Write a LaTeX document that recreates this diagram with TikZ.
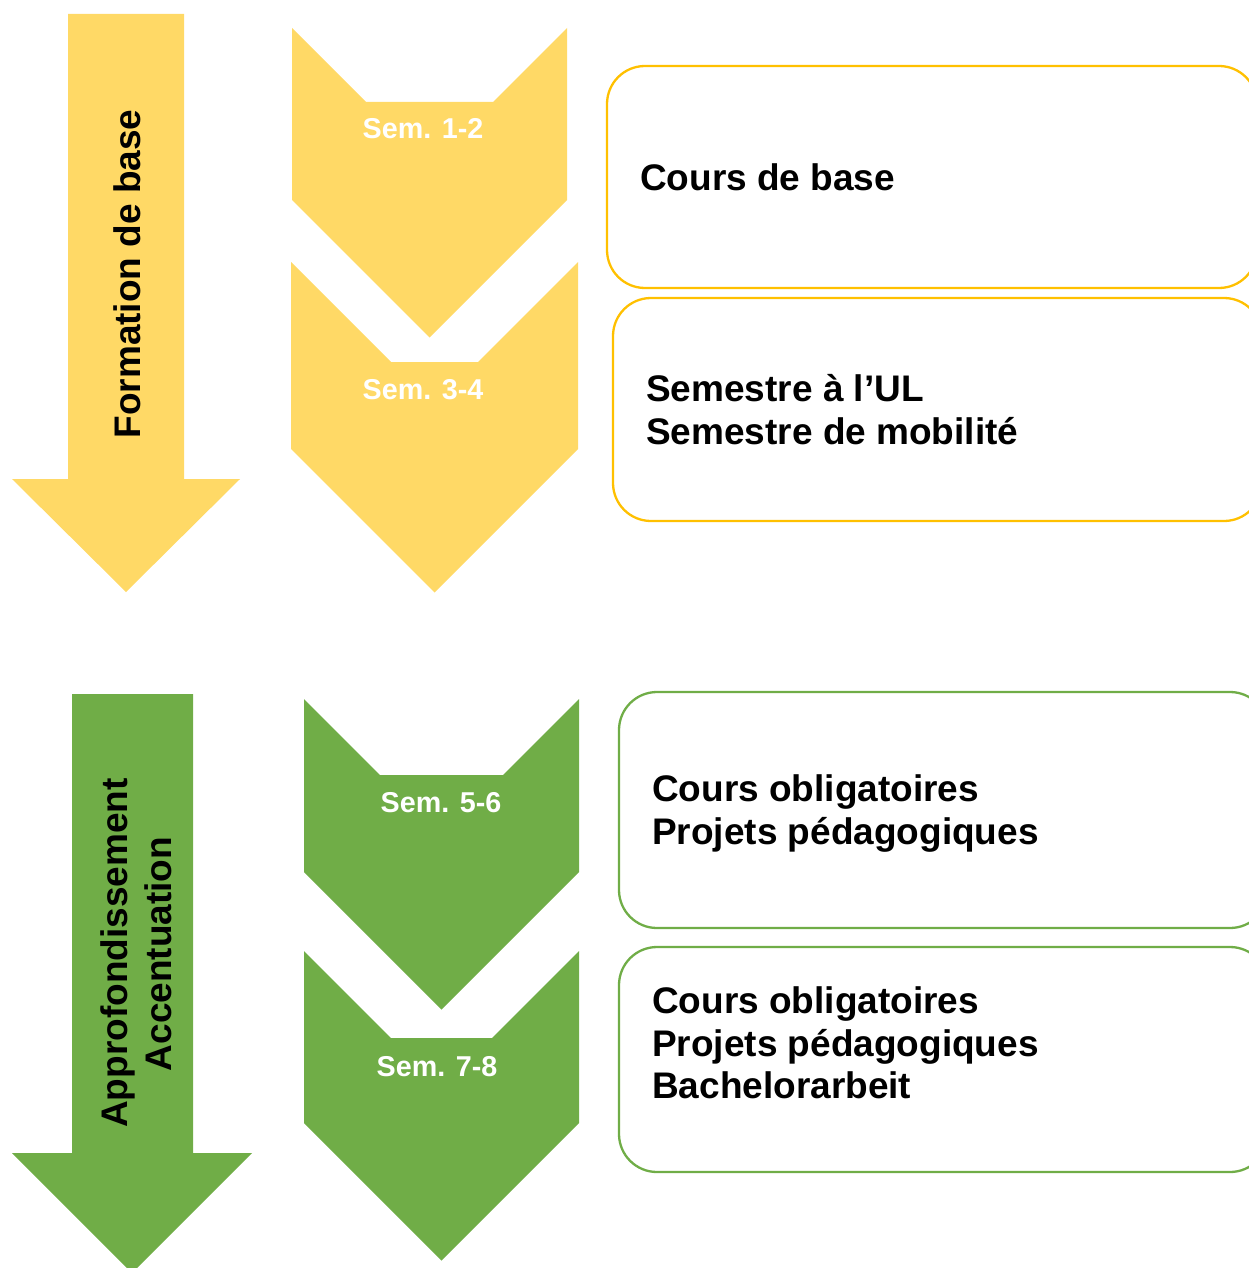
\documentclass[tikz,border=0pt]{standalone}
\usepackage{fontspec}
\setmainfont{Liberation Sans}
\definecolor{lightgold}{HTML}{FFD966}
\definecolor{gold}{HTML}{FFC000}
\definecolor{leaf}{HTML}{70AD47}
\newcommand\mychevron[7]{% name, color, L, R, T, d, S
  \fill[#2] (#3,#5) -- ({#3+#6},{#5+#6}) -- ({#4-#6},{#5+#6}) -- (#4,#5)
    -- (#4,#7) -- ({(#3+#4)/2},{#7+(#4-#3)/2}) -- (#3,#7) -- cycle;
  \coordinate (#1) at ({(#3+#4)/2},#5);
}
\tikzset{
  bigtext/.style={inner sep=0pt, font=\bfseries\fontsize{37}{42.5}\selectfont, text=black},
  semtext/.style={inner sep=0pt, anchor=base, font=\bfseries\fontsize{28.7}{33}\selectfont, text=white},
  roundbox/.style={line width=2.3pt, rounded corners=38pt, fill=white},
}
\begin{document}
\begin{tikzpicture}[x=1pt,y=-1pt]
\useasboundingbox (0,0) rectangle (1248,1268);
% big arrows
\fill[lightgold] (68,14) -- (184,14) -- (184,479) -- (240,479) -- (126,592) -- (12,479) -- (68,479) -- cycle;
\fill[leaf] (72,694) -- (193,694) -- (193,1153) -- (252,1153) -- (132,1273) -- (12,1153) -- (72,1153) -- cycle;
\node[bigtext, rotate=90, anchor=base] (fb) at (140,274) {Formation de base};
\node[bigtext, rotate=90, anchor=base] (ap) at (127,953) {Approfondissement};
\node[bigtext, rotate=90, anchor=base] (ac) at (171,954) {Accentuation};
% chevrons
\mychevron{c1}{lightgold}{292}{567}{28}{74}{200}
\mychevron{c2}{lightgold}{291}{578}{262}{100}{449}
\mychevron{c3}{leaf}{304}{579}{699}{76}{872}
\mychevron{c4}{leaf}{304}{579}{951}{87}{1123}
\node[semtext] (s1) at (423,139) {Sem. 1-2};
\node[semtext] (s2) at (423,399) {Sem. 3-4};
\node[semtext] (s3) at (441,812) {Sem. 5-6};
\node[semtext] (s4) at (437,1076) {Sem. 7-8};
% boxes
\draw[roundbox, draw=gold] (607,66) rectangle (1257,288);
\draw[roundbox, draw=gold] (613,298) rectangle (1262,521);
\draw[roundbox, draw=leaf] (619,692) rectangle (1268,928);
\draw[roundbox, draw=leaf] (619,947) rectangle (1268,1172);
% box texts
\node[bigtext, anchor=base west] (t1) at (640,190) {Cours de base};
\node[bigtext, anchor=base west] (t2a) at (646,401) {Semestre à l’UL};
\node[bigtext, anchor=base west] (t2b) at (646,444) {Semestre de mobilité};
\node[bigtext, anchor=base west] (t3a) at (652,801) {Cours obligatoires};
\node[bigtext, anchor=base west] (t3b) at (652,844) {Projets pédagogiques};
\node[bigtext, anchor=base west] (t4a) at (652,1013) {Cours obligatoires};
\node[bigtext, anchor=base west] (t4b) at (652,1056) {Projets pédagogiques};
\node[bigtext, anchor=base west] (t4c) at (652,1098) {Bachelorarbeit};
\end{tikzpicture}
\end{document}
